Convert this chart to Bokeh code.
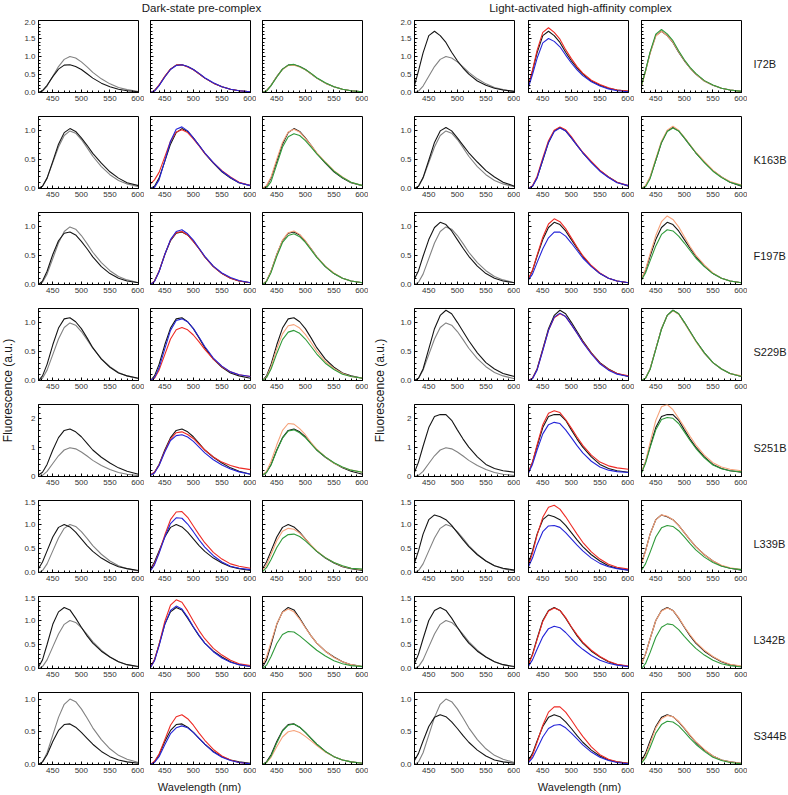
import math
import numpy as np
from bokeh.plotting import figure
from bokeh.layouts import row, column
from bokeh.models import Range1d, FixedTicker, PrintfTickFormatter, CustomJSTickFormatter, Label
from bokeh.embed import file_html
from bokeh.resources import INLINE

# ---------------- data ----------------
wavelength = [425, 432, 440, 450, 460, 470, 480, 490, 500, 510, 520, 535, 550, 565, 580, 600]
x_ticks = [450, 500, 550, 600]

free_reference = [0.00, 0.04, 0.18, 0.45, 0.72, 0.92, 1.00, 0.96, 0.85, 0.71, 0.56, 0.38, 0.24, 0.14, 0.08, 0.03]

mutants = ["I72B", "K163B", "F197B", "S229B", "S251B", "L339B", "L342B", "S344B"]
y_max = [2.0, 1.25, 1.25, 1.25, 2.5, 1.5, 1.5, 1.1]
y_tick_values = [[0, 0.5, 1.0, 1.5, 2.0], [0, 0.5, 1.0], [0, 0.5, 1.0], [0, 0.5, 1.0],
                 [0, 1, 2], [0, 0.5, 1.0, 1.5], [0, 0.5, 1.0, 1.5], [0, 0.5, 1.0]]
y_tick_format = ["%.1f", "%.1f", "%.1f", "%.1f", "%d", "%.1f", "%.1f", "%.1f"]
y_minor_step = [0.1, 0.1, 0.1, 0.1, 0.2, 0.1, 0.1, 0.1]

# I72B
i72b_dark_black = [0.00, 0.05, 0.20, 0.44, 0.65, 0.76, 0.77, 0.72, 0.64, 0.52, 0.40, 0.26, 0.16, 0.09, 0.05, 0.02]
i72b_dark_red = [0.00, 0.05, 0.21, 0.45, 0.65, 0.76, 0.77, 0.71, 0.63, 0.52, 0.40, 0.26, 0.16, 0.09, 0.05, 0.02]
i72b_dark_blue = [0.00, 0.04, 0.19, 0.43, 0.64, 0.75, 0.77, 0.72, 0.64, 0.53, 0.41, 0.27, 0.16, 0.09, 0.05, 0.02]
i72b_dark_orange = [0.00, 0.05, 0.20, 0.44, 0.64, 0.75, 0.76, 0.71, 0.63, 0.52, 0.40, 0.26, 0.16, 0.09, 0.05, 0.02]
i72b_dark_green = [0.00, 0.04, 0.19, 0.43, 0.65, 0.76, 0.78, 0.72, 0.64, 0.53, 0.41, 0.27, 0.16, 0.09, 0.05, 0.02]
i72b_light_black = [0.20, 0.60, 1.10, 1.58, 1.70, 1.58, 1.39, 1.12, 0.88, 0.68, 0.51, 0.32, 0.20, 0.12, 0.07, 0.03]
i72b_light_red = [0.20, 0.62, 1.17, 1.67, 1.80, 1.67, 1.48, 1.19, 0.94, 0.72, 0.54, 0.34, 0.22, 0.13, 0.07, 0.04]
i72b_light_blue = [0.15, 0.50, 0.95, 1.38, 1.50, 1.42, 1.27, 1.04, 0.82, 0.63, 0.47, 0.30, 0.18, 0.10, 0.05, 0.02]
i72b_light_orange = [0.18, 0.58, 1.08, 1.57, 1.70, 1.58, 1.40, 1.13, 0.89, 0.68, 0.51, 0.32, 0.20, 0.12, 0.07, 0.03]
i72b_light_green = [0.20, 0.60, 1.12, 1.62, 1.75, 1.63, 1.44, 1.16, 0.91, 0.70, 0.53, 0.33, 0.21, 0.12, 0.07, 0.03]

# K163B
k163b_dark_black = [0.00, 0.04, 0.18, 0.47, 0.77, 0.97, 1.04, 0.99, 0.88, 0.75, 0.61, 0.44, 0.29, 0.18, 0.10, 0.05]
k163b_dark_red = [0.08, 0.15, 0.28, 0.55, 0.82, 0.98, 1.02, 0.97, 0.86, 0.74, 0.61, 0.45, 0.31, 0.20, 0.11, 0.05]
k163b_dark_blue = [0.00, 0.02, 0.15, 0.48, 0.82, 1.03, 1.07, 1.00, 0.88, 0.75, 0.62, 0.45, 0.30, 0.19, 0.10, 0.05]
k163b_dark_orange = [0.00, 0.05, 0.20, 0.51, 0.80, 0.98, 1.03, 0.98, 0.87, 0.75, 0.62, 0.46, 0.31, 0.20, 0.11, 0.05]
k163b_dark_green = [0.00, 0.01, 0.12, 0.42, 0.72, 0.90, 0.95, 0.92, 0.83, 0.72, 0.60, 0.45, 0.30, 0.19, 0.11, 0.05]
k163b_light_black = [0.00, 0.04, 0.19, 0.49, 0.80, 1.00, 1.06, 1.00, 0.88, 0.75, 0.62, 0.46, 0.31, 0.20, 0.11, 0.04]
k163b_light_red = [0.00, 0.05, 0.21, 0.53, 0.83, 1.01, 1.07, 1.02, 0.90, 0.76, 0.63, 0.47, 0.32, 0.20, 0.11, 0.05]
k163b_light_blue = [0.00, 0.04, 0.18, 0.50, 0.80, 0.99, 1.05, 1.00, 0.88, 0.75, 0.62, 0.45, 0.30, 0.19, 0.10, 0.05]
k163b_light_orange = [0.00, 0.05, 0.20, 0.52, 0.82, 1.01, 1.08, 1.01, 0.89, 0.76, 0.63, 0.47, 0.32, 0.20, 0.12, 0.06]
k163b_light_green = [0.00, 0.03, 0.17, 0.49, 0.80, 0.99, 1.05, 1.00, 0.88, 0.75, 0.62, 0.45, 0.30, 0.19, 0.11, 0.05]

# F197B
f197b_dark_black = [0.00, 0.06, 0.23, 0.52, 0.76, 0.89, 0.91, 0.86, 0.75, 0.62, 0.48, 0.31, 0.19, 0.11, 0.06, 0.03]
f197b_dark_red = [0.00, 0.06, 0.23, 0.52, 0.77, 0.90, 0.92, 0.86, 0.75, 0.62, 0.48, 0.31, 0.19, 0.11, 0.06, 0.03]
f197b_dark_blue = [0.00, 0.05, 0.22, 0.52, 0.78, 0.92, 0.95, 0.88, 0.77, 0.63, 0.49, 0.32, 0.20, 0.12, 0.07, 0.03]
f197b_dark_orange = [0.00, 0.06, 0.23, 0.52, 0.77, 0.90, 0.93, 0.87, 0.76, 0.62, 0.48, 0.32, 0.20, 0.11, 0.06, 0.03]
f197b_dark_green = [0.00, 0.05, 0.21, 0.49, 0.73, 0.85, 0.88, 0.83, 0.73, 0.60, 0.47, 0.31, 0.19, 0.11, 0.06, 0.03]
f197b_light_black = [0.10, 0.24, 0.49, 0.78, 0.99, 1.08, 1.04, 0.93, 0.78, 0.63, 0.49, 0.32, 0.19, 0.11, 0.06, 0.03]
f197b_light_red = [0.10, 0.25, 0.51, 0.82, 1.05, 1.14, 1.09, 0.97, 0.81, 0.65, 0.50, 0.33, 0.20, 0.11, 0.06, 0.03]
f197b_light_blue = [0.08, 0.18, 0.38, 0.62, 0.81, 0.91, 0.91, 0.84, 0.72, 0.59, 0.46, 0.31, 0.19, 0.11, 0.06, 0.03]
f197b_light_orange = [0.10, 0.26, 0.53, 0.85, 1.09, 1.19, 1.13, 1.00, 0.83, 0.66, 0.51, 0.34, 0.20, 0.11, 0.06, 0.03]
f197b_light_green = [0.08, 0.20, 0.41, 0.67, 0.87, 0.95, 0.93, 0.84, 0.72, 0.59, 0.46, 0.31, 0.19, 0.11, 0.06, 0.03]

# S229B
s229b_dark_black = [0.00, 0.08, 0.28, 0.62, 0.91, 1.07, 1.09, 1.02, 0.90, 0.74, 0.57, 0.37, 0.23, 0.13, 0.08, 0.04]
s229b_dark_red = [0.00, 0.04, 0.18, 0.45, 0.72, 0.88, 0.92, 0.88, 0.79, 0.67, 0.54, 0.37, 0.24, 0.15, 0.10, 0.07]
s229b_dark_blue = [0.00, 0.05, 0.22, 0.55, 0.87, 1.04, 1.07, 1.02, 0.90, 0.75, 0.59, 0.39, 0.25, 0.15, 0.10, 0.07]
s229b_dark_orange = [0.00, 0.06, 0.24, 0.55, 0.81, 0.95, 0.97, 0.91, 0.80, 0.66, 0.51, 0.33, 0.21, 0.12, 0.07, 0.04]
s229b_dark_green = [0.00, 0.05, 0.20, 0.47, 0.71, 0.84, 0.87, 0.82, 0.72, 0.59, 0.46, 0.30, 0.19, 0.11, 0.07, 0.04]
s229b_light_black = [0.00, 0.04, 0.20, 0.55, 0.90, 1.13, 1.22, 1.16, 1.01, 0.85, 0.69, 0.48, 0.31, 0.20, 0.12, 0.07]
s229b_light_red = [0.00, 0.04, 0.19, 0.53, 0.87, 1.09, 1.16, 1.11, 0.97, 0.82, 0.67, 0.47, 0.30, 0.19, 0.12, 0.08]
s229b_light_blue = [0.00, 0.03, 0.18, 0.52, 0.87, 1.10, 1.17, 1.11, 0.97, 0.82, 0.66, 0.46, 0.29, 0.18, 0.11, 0.07]
s229b_light_orange = [0.00, 0.04, 0.20, 0.55, 0.90, 1.13, 1.21, 1.15, 1.00, 0.84, 0.68, 0.47, 0.31, 0.20, 0.12, 0.08]
s229b_light_green = [0.00, 0.04, 0.19, 0.54, 0.89, 1.13, 1.22, 1.16, 1.01, 0.85, 0.69, 0.48, 0.31, 0.20, 0.12, 0.07]

# S251B
s251b_dark_black = [0.05, 0.15, 0.42, 0.92, 1.35, 1.60, 1.65, 1.55, 1.38, 1.15, 0.92, 0.67, 0.47, 0.30, 0.18, 0.08]
s251b_dark_red = [0.05, 0.15, 0.40, 0.88, 1.30, 1.52, 1.55, 1.46, 1.32, 1.12, 0.92, 0.68, 0.50, 0.38, 0.30, 0.24]
s251b_dark_blue = [0.04, 0.12, 0.38, 0.85, 1.25, 1.42, 1.45, 1.37, 1.22, 1.02, 0.82, 0.58, 0.40, 0.26, 0.16, 0.08]
s251b_dark_orange = [0.05, 0.18, 0.52, 1.10, 1.60, 1.84, 1.82, 1.66, 1.45, 1.18, 0.95, 0.68, 0.46, 0.32, 0.22, 0.15]
s251b_dark_green = [0.04, 0.14, 0.40, 0.90, 1.33, 1.58, 1.62, 1.52, 1.35, 1.13, 0.92, 0.68, 0.48, 0.33, 0.22, 0.15]
s251b_light_black = [0.15, 0.50, 1.05, 1.70, 2.08, 2.15, 2.15, 1.95, 1.62, 1.30, 1.02, 0.68, 0.42, 0.28, 0.20, 0.15]
s251b_light_red = [0.15, 0.50, 1.10, 1.80, 2.20, 2.28, 2.22, 1.98, 1.68, 1.37, 1.08, 0.74, 0.50, 0.37, 0.30, 0.25]
s251b_light_blue = [0.12, 0.42, 0.92, 1.48, 1.80, 1.88, 1.84, 1.62, 1.35, 1.07, 0.82, 0.53, 0.33, 0.22, 0.17, 0.14]
s251b_light_orange = [0.15, 0.52, 1.18, 1.95, 2.42, 2.50, 2.32, 2.02, 1.72, 1.40, 1.10, 0.74, 0.48, 0.33, 0.25, 0.20]
s251b_light_green = [0.12, 0.46, 1.00, 1.62, 1.98, 2.05, 2.02, 1.84, 1.55, 1.25, 0.98, 0.65, 0.40, 0.27, 0.20, 0.16]

# L339B
l339b_dark_black = [0.08, 0.22, 0.45, 0.74, 0.94, 1.00, 0.95, 0.84, 0.70, 0.56, 0.44, 0.30, 0.20, 0.12, 0.08, 0.04]
l339b_dark_red = [0.05, 0.18, 0.42, 0.78, 1.10, 1.26, 1.27, 1.15, 0.97, 0.79, 0.62, 0.42, 0.28, 0.18, 0.13, 0.09]
l339b_dark_blue = [0.04, 0.16, 0.40, 0.74, 1.02, 1.14, 1.13, 1.01, 0.85, 0.68, 0.53, 0.35, 0.22, 0.13, 0.09, 0.06]
l339b_dark_orange = [0.05, 0.16, 0.38, 0.66, 0.86, 0.92, 0.90, 0.82, 0.70, 0.57, 0.45, 0.31, 0.21, 0.13, 0.09, 0.06]
l339b_dark_green = [0.02, 0.10, 0.27, 0.52, 0.71, 0.79, 0.80, 0.75, 0.66, 0.55, 0.44, 0.31, 0.21, 0.14, 0.09, 0.07]
l339b_light_black = [0.20, 0.45, 0.80, 1.10, 1.20, 1.16, 1.10, 0.98, 0.83, 0.68, 0.54, 0.37, 0.24, 0.14, 0.09, 0.05]
l339b_light_red = [0.15, 0.40, 0.78, 1.15, 1.36, 1.40, 1.32, 1.16, 0.98, 0.80, 0.63, 0.43, 0.28, 0.17, 0.11, 0.07]
l339b_light_blue = [0.12, 0.30, 0.58, 0.85, 0.97, 0.98, 0.94, 0.83, 0.70, 0.57, 0.45, 0.30, 0.19, 0.12, 0.08, 0.05]
l339b_light_orange = [0.18, 0.44, 0.80, 1.10, 1.20, 1.17, 1.10, 0.98, 0.83, 0.68, 0.54, 0.37, 0.24, 0.15, 0.10, 0.06]
l339b_light_green = [0.05, 0.18, 0.42, 0.74, 0.93, 0.98, 0.96, 0.87, 0.74, 0.60, 0.47, 0.32, 0.21, 0.13, 0.09, 0.06]

# L342B
l342b_dark_black = [0.03, 0.18, 0.50, 0.92, 1.18, 1.27, 1.22, 1.05, 0.86, 0.68, 0.53, 0.36, 0.24, 0.14, 0.08, 0.04]
l342b_dark_red = [0.03, 0.18, 0.50, 0.98, 1.32, 1.43, 1.38, 1.20, 0.99, 0.79, 0.62, 0.42, 0.28, 0.17, 0.10, 0.06]
l342b_dark_blue = [0.02, 0.16, 0.47, 0.92, 1.21, 1.30, 1.24, 1.07, 0.87, 0.69, 0.53, 0.35, 0.22, 0.13, 0.08, 0.04]
l342b_dark_orange = [0.08, 0.24, 0.55, 0.93, 1.17, 1.24, 1.18, 1.03, 0.85, 0.68, 0.53, 0.36, 0.23, 0.14, 0.08, 0.04]
l342b_dark_green = [0.00, 0.07, 0.25, 0.52, 0.71, 0.77, 0.76, 0.68, 0.58, 0.48, 0.38, 0.26, 0.16, 0.10, 0.06, 0.04]
l342b_light_black = [0.10, 0.30, 0.62, 1.00, 1.21, 1.27, 1.21, 1.05, 0.86, 0.68, 0.53, 0.36, 0.24, 0.14, 0.08, 0.04]
l342b_light_red = [0.08, 0.28, 0.60, 0.98, 1.20, 1.26, 1.21, 1.06, 0.87, 0.70, 0.55, 0.38, 0.25, 0.15, 0.09, 0.05]
l342b_light_blue = [0.05, 0.18, 0.40, 0.66, 0.83, 0.88, 0.85, 0.75, 0.62, 0.50, 0.40, 0.27, 0.17, 0.11, 0.07, 0.04]
l342b_light_orange = [0.10, 0.30, 0.62, 1.00, 1.20, 1.26, 1.21, 1.06, 0.87, 0.70, 0.55, 0.38, 0.25, 0.15, 0.09, 0.05]
l342b_light_green = [0.00, 0.10, 0.33, 0.65, 0.86, 0.93, 0.91, 0.81, 0.67, 0.54, 0.42, 0.28, 0.17, 0.10, 0.06, 0.03]

# S344B
s344b_dark_black = [0.00, 0.04, 0.15, 0.35, 0.52, 0.61, 0.62, 0.57, 0.49, 0.40, 0.31, 0.20, 0.12, 0.07, 0.04, 0.02]
s344b_dark_red = [0.00, 0.05, 0.16, 0.38, 0.60, 0.73, 0.76, 0.70, 0.60, 0.48, 0.37, 0.23, 0.13, 0.07, 0.03, 0.01]
s344b_dark_blue = [0.00, 0.03, 0.12, 0.30, 0.47, 0.56, 0.59, 0.56, 0.49, 0.40, 0.31, 0.19, 0.11, 0.06, 0.03, 0.01]
s344b_dark_orange = [0.00, 0.03, 0.11, 0.27, 0.42, 0.50, 0.52, 0.49, 0.43, 0.36, 0.29, 0.19, 0.12, 0.07, 0.04, 0.02]
s344b_dark_green = [0.00, 0.03, 0.13, 0.33, 0.51, 0.60, 0.62, 0.57, 0.49, 0.40, 0.31, 0.20, 0.12, 0.07, 0.04, 0.02]
s344b_light_black = [0.06, 0.17, 0.36, 0.58, 0.72, 0.76, 0.73, 0.65, 0.55, 0.44, 0.34, 0.22, 0.13, 0.07, 0.04, 0.02]
s344b_light_red = [0.04, 0.14, 0.34, 0.60, 0.80, 0.88, 0.88, 0.80, 0.68, 0.55, 0.43, 0.27, 0.15, 0.08, 0.04, 0.02]
s344b_light_blue = [0.03, 0.10, 0.24, 0.42, 0.55, 0.60, 0.61, 0.56, 0.48, 0.39, 0.30, 0.19, 0.11, 0.06, 0.03, 0.01]
s344b_light_orange = [0.03, 0.13, 0.32, 0.56, 0.70, 0.75, 0.73, 0.66, 0.56, 0.45, 0.35, 0.23, 0.13, 0.07, 0.04, 0.02]
s344b_light_green = [0.02, 0.10, 0.26, 0.48, 0.61, 0.66, 0.65, 0.59, 0.50, 0.40, 0.31, 0.20, 0.11, 0.06, 0.03, 0.01]

# ---------------- assemble ----------------
G = globals()
def series(m, state, col):
    return G["%s_%s_%s" % (m.lower(), state, col)]

COLORS = {"gray": "#828282", "black": "#151515", "red": "#ee2a24",
          "blue": "#2424d8", "orange": "#f6a27a", "green": "#2f9a3a"}
FONT = "Liberation Sans"

FRAME_W, FRAME_H = 100, 72
ROW_PITCH = 96
LEFT_B = [18, 6, 6, 18, 8, 7]
RIGHT_B = 6
TOP_B = 1
TITLE_H = 19
XLAB_H = 16
LAST_BOTTOM = 14
GRID_H = 7 * ROW_PITCH + TOP_B + FRAME_H + LAST_BOTTOM
TOTAL_W = 788


def make_panel(r, c):
    state = "dark" if c < 3 else "light"
    m = mutants[r]
    k = c % 3
    if k == 0:
        curves = [("gray", free_reference), ("black", series(m, state, "black"))]
    elif k == 1:
        curves = [("black", series(m, state, "black")), ("red", series(m, state, "red")),
                  ("blue", series(m, state, "blue"))]
    else:
        curves = [("black", series(m, state, "black")), ("orange", series(m, state, "orange")),
                  ("green", series(m, state, "green"))]
    bb = LAST_BOTTOM if r == 7 else ROW_PITCH - TOP_B - FRAME_H
    lb = LEFT_B[c]
    p = figure(width=lb + FRAME_W + RIGHT_B, height=TOP_B + FRAME_H + bb,
               x_range=Range1d(425, 600), y_range=Range1d(0, y_max[r]),
               min_border_left=lb, min_border_right=RIGHT_B, min_border_top=TOP_B,
               min_border_bottom=bb, toolbar_location=None, tools="", output_backend="svg")
    p.xgrid.visible = False
    p.ygrid.visible = False
    p.outline_line_color = "black"
    p.outline_line_width = 1
    p.background_fill_color = "white"
    p.border_fill_color = "white"
    for name, ys in curves:
        p.line(wavelength, ys, color=COLORS[name], line_width=1.1)
    xa = p.xaxis[0]
    xa.ticker = FixedTicker(ticks=x_ticks, minor_ticks=list(range(430, 601, 10)))
    xa.formatter = PrintfTickFormatter(format="%d")
    ya = p.yaxis[0]
    step = y_minor_step[r]
    minors = [round(v, 2) for v in np.arange(0, y_max[r] + 1e-9, step)]
    ya.ticker = FixedTicker(ticks=y_tick_values[r], minor_ticks=minors)
    if c in (0, 3):
        ya.formatter = PrintfTickFormatter(format=y_tick_format[r])
    else:
        ya.formatter = CustomJSTickFormatter(code="return ''")
    for ax in (xa, ya):
        ax.axis_line_color = "black"
        ax.axis_line_width = 1
        ax.major_tick_in = 3
        ax.major_tick_out = 0
        ax.minor_tick_in = 2
        ax.minor_tick_out = 0
        ax.major_tick_line_color = "black"
        ax.minor_tick_line_color = "black"
        ax.major_label_text_font = FONT
        ax.major_label_text_font_size = "8px"
        ax.major_label_text_color = "#333333"
        ax.major_label_standoff = 3
    xa.major_label_standoff = 3
    return p


def blank(width, height):
    p = figure(width=width, height=height, x_range=Range1d(0, width), y_range=Range1d(0, height),
               min_border=0, toolbar_location=None, tools="", output_backend="svg",
               x_axis_type=None, y_axis_type=None)
    p.xgrid.visible = False
    p.ygrid.visible = False
    p.outline_line_color = None
    p.background_fill_color = "white"
    p.border_fill_color = "white"
    return p


def add_text(p, x, y, text, size, angle=0.0, align="center", color="#1a1a1a"):
    p.add_layout(Label(x=x, y=y, text=text, angle=angle, text_align=align, text_baseline="middle",
                       text_font=FONT, text_font_size=size, text_color=color))


columns_ = []
for c in range(6):
    columns_.append(column([make_panel(r, c) for r in range(8)], spacing=0))

widths = [LEFT_B[c] + FRAME_W + RIGHT_B for c in range(6)]
strip1_w = 20
strip2_w = 28
strip3_w = TOTAL_W - strip1_w - strip2_w - sum(widths)

label_y = GRID_H - (390 - TITLE_H)
strip1 = blank(strip1_w, GRID_H)
add_text(strip1, 7, label_y, "Fluorescence (a.u.)", "12px", angle=math.pi / 2)
strip2 = blank(strip2_w, GRID_H)
add_text(strip2, 11, label_y, "Fluorescence (a.u.)", "12px", angle=math.pi / 2)
strip3 = blank(strip3_w, GRID_H)
for r, m in enumerate(mutants):
    add_text(strip3, 6, GRID_H - (ROW_PITCH * r + TOP_B + 43), m, "11px", align="left")

grid = row([strip1, columns_[0], columns_[1], columns_[2], strip2,
            columns_[3], columns_[4], columns_[5], strip3], spacing=0)

title = blank(TOTAL_W, TITLE_H)
add_text(title, 201, TITLE_H - 7, "Dark-state pre-complex", "11.5px")
add_text(title, 580, TITLE_H - 7, "Light-activated high-affinity complex", "11.5px")

xlab = blank(TOTAL_W, XLAB_H)
add_text(xlab, 199, XLAB_H - 8, "Wavelength (nm)", "11px")
add_text(xlab, 579, XLAB_H - 8, "Wavelength (nm)", "11px")

layout = column([title, grid, xlab], spacing=0)

open("out.html", "w").write(file_html(layout, INLINE))
